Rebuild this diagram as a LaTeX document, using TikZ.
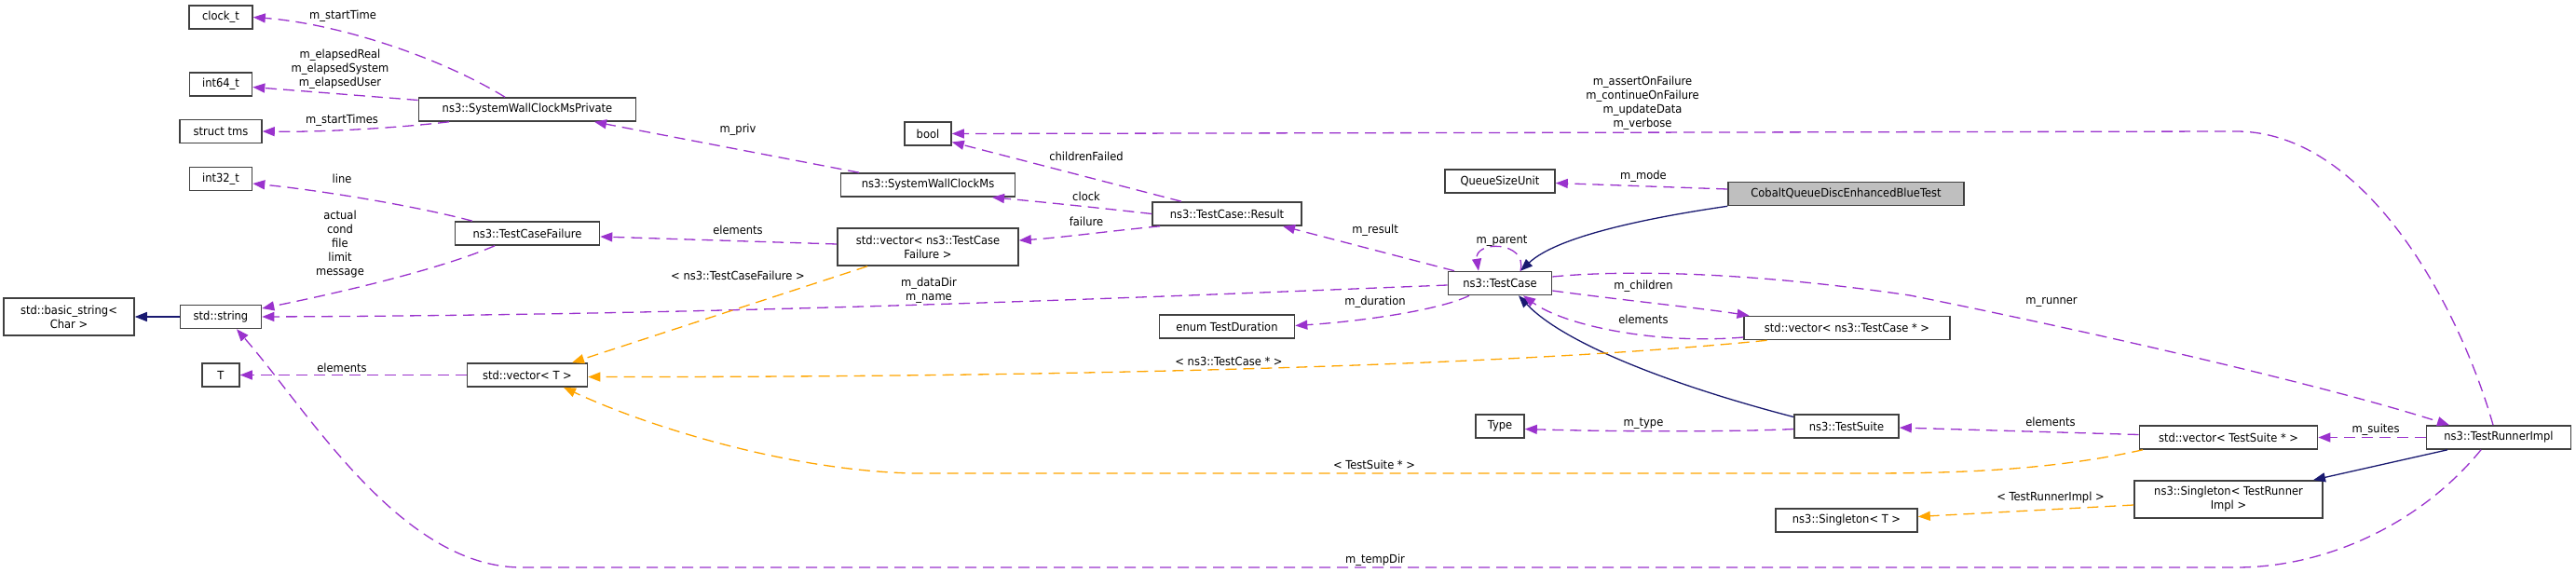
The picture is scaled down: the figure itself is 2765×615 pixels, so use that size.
\documentclass[tikz,border=0pt]{standalone}
\usepackage{fontspec}
\setmainfont{DejaVu Sans}[FakeStretch=0.92]
\usetikzlibrary{arrows.meta}
\definecolor{usepurple}{HTML}{9A32CD}
\definecolor{tmplorange}{HTML}{FFA500}
\definecolor{inhnavy}{HTML}{191970}
\definecolor{boxgray}{HTML}{404040}
\definecolor{mainfill}{HTML}{BFBFBF}

\begin{document}
\begin{tikzpicture}[x=1pt,y=-1pt,
  cls/.style={draw=boxgray,line width=1.6pt,fill=white,minimum height=25,inner sep=2pt,font=\fontsize{12.5}{15}\selectfont},
  clstwo/.style={cls,minimum height=40,align=center},
  lbl/.style={inner sep=0pt,align=center,font=\fontsize{12.5}{15}\selectfont},
  use/.style={draw=usepurple,line width=1.3pt,dash pattern=on 12pt off 7pt,-{Triangle[length=13pt,width=10pt]}},
  tmpl/.style={use,draw=tmplorange},
  inh/.style={draw=inhnavy,line width=1.3pt,-{Triangle[length=13pt,width=10pt]}}]
\useasboundingbox (0,0) rectangle (2765,615);

% Classes, left column
\node[cls,minimum width=68] (clockt) at (237,18.5) {clock\_t};
\node[cls,minimum width=67] (intsixfour) at (237,90.5) {int64\_t};
\node[cls,minimum width=88] (structtms) at (237,141) {struct tms};
\node[cls,minimum width=67] (intthirtytwo) at (237,192) {int32\_t};
\node[clstwo,minimum width=140] (basicstring) at (74,340) {std::basic\_string<\\Char >};
\node[cls,minimum width=87] (stdstring) at (237,340) {std::string};
\node[cls,minimum width=40] (T) at (237,402.5) {T};

% Second column
\node[cls,minimum width=233] (swcmp) at (566,117.5) {ns3::SystemWallClockMsPrivate};
\node[cls,minimum width=155] (tcf) at (566,250.5) {ns3::TestCaseFailure};
\node[cls,minimum width=129] (vecT) at (566,402.5) {std::vector< T >};

% Third column
\node[cls,minimum width=50] (bool) at (996,143.5) {bool};
\node[cls,minimum width=187] (swcm) at (996,198.5) {ns3::SystemWallClockMs};
\node[clstwo,minimum width=194] (vectcf) at (996,265) {std::vector< ns3::TestCase\\Failure >};
\node[cls,minimum width=160] (result) at (1317,229.5) {ns3::TestCase::Result};
\node[cls,minimum width=145] (duration) at (1317,350.5) {enum TestDuration};

% Test case and friends
\node[cls,minimum width=118] (qsu) at (1610,194.5) {QueueSizeUnit};
\node[cls,minimum width=111] (testcase) at (1610,304) {ns3::TestCase};
\node[cls,minimum width=52] (type) at (1610,457.5) {Type};
\node[cls,fill=mainfill,minimum width=253] (cobalt) at (1981.5,208) {CobaltQueueDiscEnhancedBlueTest};
\node[cls,minimum width=221] (vectc) at (1982.5,352) {std::vector< ns3::TestCase * >};
\node[cls,minimum width=112] (testsuite) at (1982,457.5) {ns3::TestSuite};
\node[cls,minimum width=152] (singT) at (1982,558.5) {ns3::Singleton< T >};

% Runner side
\node[cls,minimum width=191] (vects) at (2392,469.5) {std::vector< TestSuite * >};
\node[clstwo,minimum width=202] (singtri) at (2392,536) {ns3::Singleton< TestRunner\\Impl >};
\node[cls,minimum width=155] (runner) at (2682,469.5) {ns3::TestRunnerImpl};

% Inheritance
\draw[inh] (stdstring.west) -- (basicstring.east);
\draw[inh] (cobalt.south west) .. controls (1760,235) and (1670,255) .. ([xshift=22]testcase.north);
\draw[inh] ([yshift=10]testsuite.west) .. controls (1800,415) and (1680,370) .. ([xshift=20]testcase.south);
\draw[inh] ([xshift=-55]runner.south) -- ([xshift=91]singtri.north);

% Members
\draw[use] ([xshift=-24]swcmp.north) .. controls (470,60) and (360,25) .. (clockt.east);
\draw[use] ([yshift=10]swcmp.west) -- ([yshift=-3]intsixfour.east);
\draw[use] ([xshift=-84]swcmp.south) .. controls (420,138) and (340,142) .. (structtms.east);
\draw[use] ([xshift=-59]tcf.north) .. controls (450,222) and (350,205) .. ([yshift=-5]intthirtytwo.east);
\draw[use] ([xshift=-35]tcf.south) .. controls (470,290) and (360,315) .. ([yshift=9]stdstring.east);
\draw[use] (vecT.west) -- (T.east);
\draw[use] ([yshift=3]vectcf.west) -- ([yshift=-3.5]tcf.east);
\draw[use] ([xshift=-74]swcm.north) -- ([xshift=72]swcmp.south);
\draw[use] ([xshift=-49]result.north) -- ([yshift=-9]bool.east);
\draw[use] (result.west) .. controls (1170,222) and (1110,216) .. ([xshift=69]swcm.south);
\draw[use] ([xshift=-72]result.south) .. controls (1190,248) and (1140,255) .. ([yshift=7]vectcf.east);
\draw[use] ([yshift=-2]testcase.west) .. controls (1250,318) and (800,338) .. (stdstring.east);
\draw[use] ([xshift=-33]testcase.south) .. controls (1545,333) and (1460,345) .. ([yshift=1]duration.east);
\draw[use] ([xshift=-49]testcase.north) -- ([xshift=60]result.south);
\draw[use] ([xshift=22]testcase.north) .. controls (1640,258) and (1582,258) .. ([xshift=-23]testcase.north);
\draw[use] ([yshift=5]cobalt.west) -- ([yshift=-2]qsu.east);
\draw[use] ([yshift=-8]testcase.east) .. controls (1740,322) and (1820,330) .. ([xshift=-105]vectc.north);
\draw[use] ([yshift=-10]vectc.west) .. controls (1780,370) and (1680,350) .. ([xshift=25]testcase.south);
\draw[use] ([yshift=-3]testsuite.west) .. controls (1850,464) and (1720,463) .. ([yshift=-3]type.east);
\draw[use] ([yshift=3]vects.west) -- ([yshift=-1.5]testsuite.east);
\draw[use] (runner.west) -- (vects.east);
\draw[use] ([yshift=7]testcase.east) .. controls (1760,288) and (1900,295) .. (2050,317)
  .. controls (2250,357) and (2500,415) .. ([xshift=-53]runner.north);
\draw[use] ([xshift=-6]runner.north) .. controls (2640,330) and (2540,141) .. (2400,141) -- (bool.east);
\draw[use] ([xshift=-19]runner.south) .. controls (2600,560) and (2500,609) .. (2400,609) -- (560,609)
  .. controls (430,609) and (330,440) .. ([xshift=17]stdstring.south);

% Template instances
\draw[tmpl] ([xshift=-65]vectcf.south) -- ([xshift=48]vecT.north);
\draw[tmpl] ([xshift=-86]vectc.south) .. controls (1650,390) and (1200,405) .. ([yshift=-2]vecT.east);
\draw[tmpl] ([xshift=-92]vects.south) .. controls (2200,505) and (2100,508) .. (2000,508) -- (980,508)
  .. controls (850,505) and (700,460) .. ([xshift=39]vecT.south);
\draw[tmpl] ([yshift=-6]singtri.west) -- ([yshift=4]singT.east);

% Edge labels
\node[lbl] (lstarttime) at (368,17) {m\_startTime};
\node[lbl] (lelapsed) at (365,74) {m\_elapsedReal\\m\_elapsedSystem\\m\_elapsedUser};
\node[lbl] (lstarttimes) at (367,129) {m\_startTimes};
\node[lbl] (lline) at (367,192) {line};
\node[lbl] (lactual) at (365,262) {actual\\cond\\file\\limit\\message};
\node[lbl] (lelemT) at (367,395) {elements};
\node[lbl] (lpriv) at (792,139) {m\_priv};
\node[lbl] (lelemtcf) at (792,247) {elements};
\node[lbl] (ltcfinst) at (792,296) {< ns3::TestCaseFailure >};
\node[lbl] (ldatadir) at (997,312) {m\_dataDir\\m\_name};
\node[lbl] (lchildfail) at (1166,168) {childrenFailed};
\node[lbl] (lclock) at (1166,211) {clock};
\node[lbl] (lfailure) at (1166,238) {failure};
\node[lbl] (lresult) at (1476,247) {m\_result};
\node[lbl] (lduration) at (1476,324) {m\_duration};
\node[lbl] (ltcinst) at (1319,388) {< ns3::TestCase * >};
\node[lbl] (ltsinst) at (1475,499) {< TestSuite * >};
\node[lbl] (ltempdir) at (1476,601) {m\_tempDir};
\node[lbl] (lflags) at (1763,111) {m\_assertOnFailure\\m\_continueOnFailure\\m\_updateData\\m\_verbose};
\node[lbl] (lmode) at (1764,189) {m\_mode};
\node[lbl] (lparent) at (1612,259) {m\_parent};
\node[lbl] (lchildren) at (1764,307) {m\_children};
\node[lbl] (lelemtc) at (1764,343) {elements};
\node[lbl] (ltype) at (1764,455) {m\_type};
\node[lbl] (lrunner) at (2202,324) {m\_runner};
\node[lbl] (lelemts) at (2201,453) {elements};
\node[lbl] (lsuites) at (2550,461) {m\_suites};
\node[lbl] (ltriinst) at (2201,534) {< TestRunnerImpl >};
\end{tikzpicture}
\end{document}
